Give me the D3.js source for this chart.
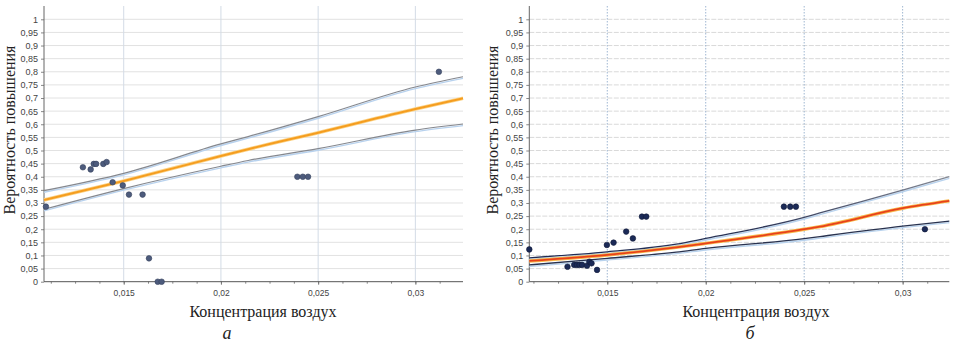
<!DOCTYPE html>
<html><head><meta charset="utf-8">
<script src="https://cdn.jsdelivr.net/npm/d3@7"></script>
<style>
html,body{margin:0;padding:0;background:#fff;}
svg{display:block;}
</style>
</head><body>
<svg id="chart" width="957" height="345"></svg>
<script>
// ---------- data ----------
const yTicks = [0,0.05,0.1,0.15,0.2,0.25,0.3,0.35,0.4,0.45,0.5,0.55,0.6,0.65,0.7,0.75,0.8,0.85,0.9,0.95,1];
const xTicks = [0.015,0.02,0.025,0.03];
const yLabel = "Вероятность повышения";
const xLabel = "Концентрация воздух";
const panelLetters = ["а","б"];

// panel а : observed points
const aX = [0.0110,0.0129,0.0133,0.01346,0.01358,0.01395,0.01412,0.01443,0.01495,0.01527,0.01597,0.0163,0.01675,0.01695,0.02393,0.02421,0.02448,0.03121];
const aY = [0.286,0.436,0.428,0.449,0.449,0.449,0.456,0.379,0.367,0.332,0.332,0.089,0,0,0.4,0.4,0.4,0.8];
// panel а : fitted curve and confidence bounds
const aCurveX = [0.0109,0.015,0.02,0.0214,0.025,0.03,0.03245];
const aFit    = [0.311,0.384,0.479,0.505,0.568,0.658,0.699];
const aUpper  = [0.347,0.413,0.525,0.553,0.629,0.742,0.781];
const aLower  = [0.276,0.355,0.440,0.462,0.507,0.578,0.601];

// panel б : observed points
const bX = [0.01104,0.01298,0.01332,0.01346,0.01359,0.01372,0.01397,0.01409,0.0142,0.01448,0.01498,0.01532,0.01596,0.0163,0.01676,0.01698,0.02397,0.02429,0.02458,0.03113];
const bY = [0.123,0.057,0.064,0.064,0.064,0.064,0.061,0.076,0.07,0.045,0.14,0.149,0.191,0.165,0.248,0.248,0.286,0.286,0.286,0.2];
// panel б : fitted curve and confidence bounds
const bCurveX = [0.01104,0.015,0.0185,0.02,0.025,0.0258,0.03,0.03237];
const bFit    = [0.079,0.102,0.131,0.146,0.200,0.210,0.280,0.308];
const bUpper  = [0.091,0.114,0.143,0.165,0.245,0.262,0.349,0.400];
const bLower  = [0.064,0.089,0.113,0.127,0.164,0.172,0.212,0.231];

// ---------- layout ----------
const panels = [
  {x0:44, x1:463, dom:[0.0109,0.03245], px:aX, py:aY, cx:aCurveX, fit:aFit, up:aUpper, lo:aLower,
   ylabX:10, xlabX:263, letterX:227, kind:"a"},
  {x0:529.3, x1:949.3, dom:[0.01104,0.03237], px:bX, py:bY, cx:bCurveX, fit:bFit, up:bUpper, lo:bLower,
   ylabX:493, xlabX:756, letterX:750, kind:"b"}
];
const yBottom = 281.7, yTop1 = 19.3, axisTop = 6;
const fmt = v => String(+v.toFixed(4)).replace('.', ',');

const svg = d3.select("#chart");
const defs = svg.append("defs");
const grad = defs.append("linearGradient").attr("id","upGrad")
  .attr("gradientUnits","userSpaceOnUse").attr("x1",529).attr("x2",949).attr("y1",0).attr("y2",0);
grad.append("stop").attr("offset","0").attr("stop-color","#1e2a52");
grad.append("stop").attr("offset","0.55").attr("stop-color","#2a3456");
grad.append("stop").attr("offset","1").attr("stop-color","#858a96");

panels.forEach((p,pi) => {
  const x = d3.scaleLinear().domain(p.dom).range([p.x0,p.x1]);
  const y = d3.scaleLinear().domain([0,1]).range([yBottom,yTop1]);
  const g = svg.append("g");

  // horizontal grid
  g.append("g").selectAll("line").data(yTicks.filter(v=>v>0)).join("line")
    .attr("x1",p.x0).attr("x2",p.x1).attr("y1",d=>y(d)).attr("y2",d=>y(d))
    .attr("stroke", p.kind==="a" ? "#e2e2e2" : "#d9d9d9")
    .attr("stroke-dasharray", p.kind==="a" ? null : "5,1.5")
    .attr("stroke-width",1);
  // vertical grid
  g.append("g").selectAll("line").data(xTicks).join("line")
    .attr("x1",d=>x(d)).attr("x2",d=>x(d)).attr("y1",axisTop).attr("y2",yBottom)
    .attr("stroke", p.kind==="a" ? "#d3dbe6" : "#9fb7d2")
    .attr("stroke-dasharray", p.kind==="a" ? null : "1.5,1.5")
    .attr("stroke-width",1);

  // y axis
  const ya = d3.axisLeft(y).tickValues(yTicks).tickFormat(fmt).tickSize(3).tickPadding(3);
  const yg = g.append("g").attr("transform",`translate(${p.x0},0)`).call(ya);
  yg.select(".domain").remove();
  yg.append("line").attr("x1",0).attr("x2",0).attr("y1",axisTop).attr("y2",yBottom).attr("stroke","#666");
  yg.selectAll(".tick line").attr("stroke","#888");
  yg.selectAll("text").attr("font-family","Liberation Sans, Arial, sans-serif").attr("font-size",9).attr("fill","#444");

  // x axis
  const minor = d3.range(0.01125, p.dom[1], 0.00125).filter(v => v > p.dom[0]);
  const xm = d3.axisBottom(x).tickValues(minor).tickFormat("").tickSize(2);
  const xmg = g.append("g").attr("transform",`translate(0,${yBottom})`).call(xm);
  xmg.select(".domain").remove();
  xmg.selectAll(".tick line").attr("stroke","#888");
  const xa = d3.axisBottom(x).tickValues(xTicks).tickFormat(fmt).tickSize(3).tickPadding(5);
  const xg = g.append("g").attr("transform",`translate(0,${yBottom})`).call(xa);
  xg.select(".domain").remove();
  xg.append("line").attr("x1",p.x0).attr("x2",p.x1).attr("y1",0).attr("y2",0).attr("stroke","#555");
  xg.selectAll(".tick line").attr("stroke","#777");
  xg.selectAll("text").attr("font-family","Liberation Sans, Arial, sans-serif").attr("font-size",8.5).attr("fill","#444");

  // curves
  const line = (vals) => d3.line().x((d,i)=>x(p.cx[i])).y(d=>y(d)).curve(d3.curveMonotoneX)(vals);
  if (p.kind === "a") {
    [p.up, p.lo].forEach(arr => {
      g.append("path").attr("d", line(arr)).attr("fill","none")
        .attr("stroke","#b8d2ee").attr("stroke-width",1.4).attr("transform","translate(0,1.6)");
      g.append("path").attr("d", line(arr)).attr("fill","none")
        .attr("stroke","#85888f").attr("stroke-width",1.2);
    });
    g.append("path").attr("d", line(p.fit)).attr("fill","none")
      .attr("stroke","#fbd48a").attr("stroke-width",3.6);
    g.append("path").attr("d", line(p.fit)).attr("fill","none")
      .attr("stroke","#f59d1f").attr("stroke-width",2);
  } else {
    [p.up, p.lo].forEach(arr => {
      g.append("path").attr("d", line(arr)).attr("fill","none")
        .attr("stroke","#b9d3ee").attr("stroke-width",1.4).attr("transform","translate(0,1.6)");
    });
    g.append("path").attr("d", line(p.up)).attr("fill","none")
      .attr("stroke","url(#upGrad)").attr("stroke-width",1.3);
    g.append("path").attr("d", line(p.lo)).attr("fill","none")
      .attr("stroke","#28324f").attr("stroke-width",1.3);
    g.append("path").attr("d", line(p.fit)).attr("fill","none")
      .attr("stroke","#f7b84a").attr("stroke-width",3.4);
    g.append("path").attr("d", line(p.fit)).attr("fill","none")
      .attr("stroke","#e8411b").attr("stroke-width",1.8);
  }

  // points
  g.append("g").selectAll("circle").data(p.px.map((v,i)=>[v,p.py[i]])).join("circle")
    .attr("cx",d=>x(d[0])).attr("cy",d=>y(d[1])).attr("r",2.8)
    .attr("fill", p.kind==="a" ? "#4d5b7c" : "#1b2a57")
    .attr("stroke", p.kind==="a" ? "#36415c" : "#111a38").attr("stroke-width",0.6);

  // labels
  svg.append("text").attr("transform",`translate(${p.ylabX+5},130) rotate(-90)`)
    .attr("text-anchor","middle").attr("font-family","Liberation Serif, Times New Roman, serif")
    .attr("font-size",16).attr("fill","#222").text(yLabel);
  svg.append("text").attr("x",p.xlabX).attr("y",317)
    .attr("text-anchor","middle").attr("font-family","Liberation Serif, Times New Roman, serif")
    .attr("font-size",16).attr("fill","#222").text(xLabel);
  svg.append("text").attr("x",p.letterX).attr("y",339)
    .attr("text-anchor","middle").attr("font-family","Liberation Serif, Times New Roman, serif")
    .attr("font-style","italic").attr("font-size",18).attr("fill","#222").text(panelLetters[pi]);
});
</script>
</body></html>
